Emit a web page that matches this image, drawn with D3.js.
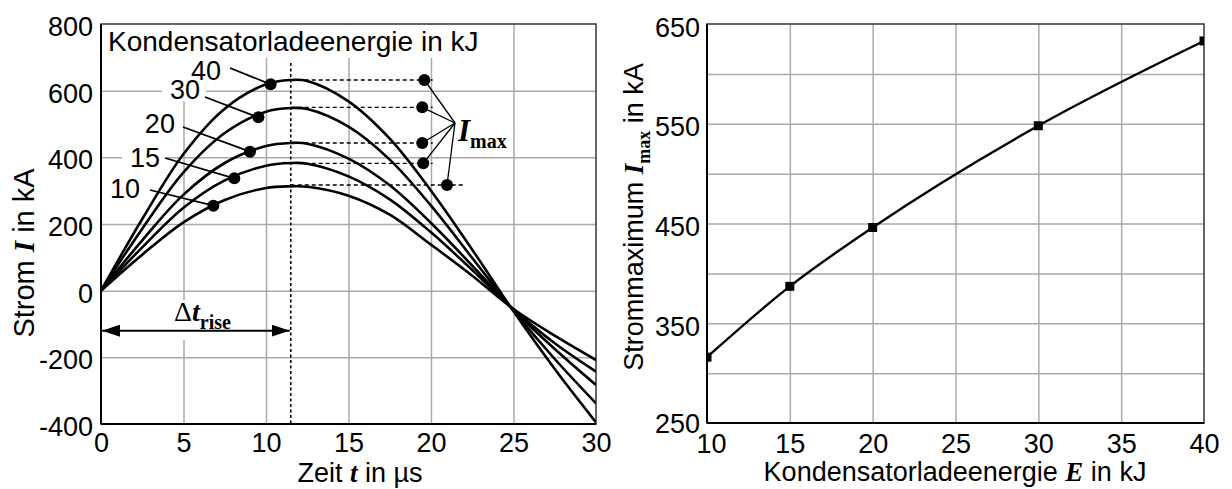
<!DOCTYPE html>
<html>
<head>
<meta charset="utf-8">
<script src="https://cdn.jsdelivr.net/npm/d3@7"></script>
<style>
body { margin: 0; background: #fff; }
text { font-family: "Liberation Sans", Arial, sans-serif; fill: #000; }
.serif { font-family: "Liberation Serif", "Times New Roman", serif; font-weight: bold; }
</style>
</head>
<body>
<svg id="chart" width="1232" height="489"></svg>
<script>
// left chart: current over time for each charging energy
const timeUs = [0, 2.5, 5, 7.5, 10, 11.5, 12.5, 15, 17.5, 20, 22.5, 25, 27.5, 30];
const current10 = [0, 108, 205, 272, 308, 313, 312, 285, 228, 138, 45, -55, -135, -208];
const current15 = [0, 130, 249, 331, 375, 383, 381, 343, 274, 175, 62, -56, -158, -243];
const current20 = [0, 151, 288, 383, 434, 443, 441, 396, 316, 203, 75, -58, -175, -283];
const current30 = [0, 186, 355, 473, 537, 548, 545, 492, 393, 255, 98, -60, -205, -338];
const current40 = [0, 215, 410, 546, 619, 632, 629, 568, 456, 300, 123, -62, -235, -395];
const energyLabels = ['10', '15', '20', '30', '40'];

// marked points on the rising edge
const dotTime = [6.81, 8.08, 9.03, 9.54, 10.28];
const dotCurrent = [255, 337, 417, 520, 619];
// label positions (text end) and leader start
const labelTime = [2.36, 3.58, 4.48, 6.0, 7.27];
const labelCurrent = [278, 371, 473, 574, 633];
const leaderTime = [2.97, 3.88, 4.97, 6.3, 7.82];
const leaderCurrent = [302, 398, 491, 581, 668];

// I_max markers
const imaxDotTime = [20.97, 19.53, 19.47, 19.47, 19.6];
const imaxDotCurrent = [317, 382, 443, 550, 632];
const imaxLineEnd = [22.05, 20.1, 20.1, 20.1, 20.1];
const riseTime = 11.5;
const riseArrowCurrent = -120;

const timeTicks = [0, 5, 10, 15, 20, 25, 30];
const currentTicks = [-400, -200, 0, 200, 400, 600, 800];

// right chart: peak current over energy
const energyKJ = [10, 15, 20, 30, 40];
const peakCurrent = [316, 387, 446, 548, 633];
const energyTicks = [10, 15, 20, 25, 30, 35, 40];
const peakGrid = [300, 350, 400, 450, 500, 550, 600];
const peakTicks = [250, 350, 450, 550, 650];

const FS = 27;
const svg = d3.select('#chart');
svg.append('rect').attr('width', 1232).attr('height', 489).attr('fill', '#fff');

const xT = d3.scaleLinear().domain([0, 30]).range([101, 596]);
const yI = d3.scaleLinear().domain([-400, 800]).range([424, 24]);
const xE = d3.scaleLinear().domain([10, 40]).range([707, 1204]);
const yM = d3.scaleLinear().domain([250, 650]).range([423, 24]);

const defs = svg.append('defs');
defs.append('clipPath').attr('id', 'clipL').append('rect')
	.attr('x', 101).attr('y', 24).attr('width', 495).attr('height', 400);
defs.append('clipPath').attr('id', 'clipR').append('rect')
	.attr('x', 707).attr('y', 24).attr('width', 497).attr('height', 399);
defs.append('marker').attr('id', 'arrowHead')
	.attr('viewBox', '0 0 18 12').attr('refX', 18).attr('refY', 6)
	.attr('markerWidth', 18).attr('markerHeight', 12)
	.attr('markerUnits', 'userSpaceOnUse').attr('orient', 'auto-start-reverse')
	.append('path').attr('d', 'M0,0 L18,6 L0,12 Z').attr('fill', '#000');

const plain = d => String(d);
const styleGrid = g => {
	g.select('.domain').remove();
	g.selectAll('line').attr('stroke', '#aaa').attr('stroke-width', 1.5);
};
const styleTicks = g => {
	g.select('.domain').remove();
	g.attr('font-size', FS).attr('font-family', '"Liberation Sans", Arial, sans-serif');
};

// ---------- left chart ----------
svg.append('g').attr('transform', `translate(0,${yI.range()[0]})`)
	.call(d3.axisBottom(xT).tickValues(timeTicks.slice(1, -1)).tickSize(-400).tickFormat(''))
	.call(styleGrid);
svg.append('g').attr('transform', `translate(${xT.range()[0]},0)`)
	.call(d3.axisLeft(yI).tickValues(currentTicks.slice(1, -1)).tickSize(-495).tickFormat(''))
	.call(styleGrid);

// white boxes that hide the grid behind the annotations
svg.append('rect').attr('x', 102).attr('y', 25).attr('width', 380).attr('height', 33).attr('fill', '#fff');
svg.append('rect').attr('x', 282).attr('y', 58).attr('width', 18).attr('height', 6).attr('fill', '#fff');

const leftPlot = svg.append('g');
leftPlot.append('rect').attr('x', 101).attr('y', 24).attr('width', 495).attr('height', 400)
	.attr('fill', 'none').attr('stroke', '#333').attr('stroke-width', 1.5);

// label backgrounds
energyLabels.forEach((lab, i) => {
	leftPlot.append('rect')
		.attr('x', xT(labelTime[i]) - 38).attr('y', yI(labelCurrent[i]) - 22)
		.attr('width', 44).attr('height', 24).attr('fill', '#fff');
});
leftPlot.append('rect').attr('x', 170).attr('y', 300).attr('width', 66).attr('height', 40).attr('fill', '#fff');

// rise time dotted vertical
leftPlot.append('line')
	.attr('x1', xT(riseTime)).attr('x2', xT(riseTime))
	.attr('y1', 63).attr('y2', yI(-400))
	.attr('stroke', '#000').attr('stroke-width', 1.6).attr('stroke-dasharray', '3,2.5');

const series = [current10, current15, current20, current30, current40];

// dotted lines from peaks to I_max markers
series.forEach((s, i) => {
	leftPlot.append('line')
		.attr('x1', xT(riseTime)).attr('x2', xT(imaxLineEnd[i]))
		.attr('y1', yI(imaxDotCurrent[i])).attr('y2', yI(imaxDotCurrent[i]))
		.attr('stroke', '#000').attr('stroke-width', 1.4).attr('stroke-dasharray', '4,3');
});

const line = d3.line()
	.x((d, i) => xT(timeUs[i]))
	.y(d => yI(d))
	.curve(d3.curveCatmullRom.alpha(0.5));

leftPlot.append('g').attr('clip-path', 'url(#clipL)')
	.selectAll('path').data(series).enter().append('path')
	.attr('d', line).attr('fill', 'none')
	.attr('stroke', '#000').attr('stroke-width', 2.6);

// markers, leaders and labels on rising edge
energyLabels.forEach((lab, i) => {
	leftPlot.append('line')
		.attr('x1', xT(leaderTime[i])).attr('y1', yI(leaderCurrent[i]))
		.attr('x2', xT(dotTime[i])).attr('y2', yI(dotCurrent[i]))
		.attr('stroke', '#000').attr('stroke-width', 1.8);
	leftPlot.append('circle')
		.attr('cx', xT(dotTime[i])).attr('cy', yI(dotCurrent[i])).attr('r', 6).attr('fill', '#000');
	leftPlot.append('text')
		.attr('x', xT(labelTime[i])).attr('y', yI(labelCurrent[i]))
		.attr('text-anchor', 'end').attr('font-size', FS).text(lab);
});

// I_max markers and leaders
const hubX = 455, hubY = 123;
energyLabels.forEach((lab, i) => {
	leftPlot.append('line')
		.attr('x1', hubX).attr('y1', hubY)
		.attr('x2', xT(imaxDotTime[i])).attr('y2', yI(imaxDotCurrent[i]))
		.attr('stroke', '#000').attr('stroke-width', 1.3);
	leftPlot.append('circle')
		.attr('cx', xT(imaxDotTime[i])).attr('cy', yI(imaxDotCurrent[i])).attr('r', 6).attr('fill', '#000');
});
const imaxText = leftPlot.append('text').attr('x', hubX + 3).attr('y', hubY + 18).attr('class', 'serif');
imaxText.append('tspan').attr('font-size', 31).attr('font-style', 'italic').text('I');
imaxText.append('tspan').attr('font-size', 20).attr('dy', 7).text('max');

// title
leftPlot.append('text').attr('x', 108).attr('y', 51).attr('font-size', 28)
	.text('Kondensatorladeenergie in kJ');

// rise time arrow
leftPlot.append('line')
	.attr('x1', xT(0) + 1).attr('x2', xT(riseTime) - 1)
	.attr('y1', yI(riseArrowCurrent)).attr('y2', yI(riseArrowCurrent))
	.attr('stroke', '#000').attr('stroke-width', 2)
	.attr('marker-start', 'url(#arrowHead)').attr('marker-end', 'url(#arrowHead)');
const riseText = leftPlot.append('text').attr('x', 174).attr('y', 321).attr('class', 'serif');
riseText.append('tspan').attr('font-size', 28).attr('font-weight', 'normal').text('Δ');
riseText.append('tspan').attr('font-size', 28).attr('font-style', 'italic').text('t');
riseText.append('tspan').attr('font-size', 20).attr('dy', 8).text('rise');

// axis lines and tick labels
leftPlot.append('line').attr('x1', 101).attr('x2', 101).attr('y1', 24).attr('y2', 424)
	.attr('stroke', '#000').attr('stroke-width', 2);
leftPlot.append('line').attr('x1', 101).attr('x2', 596).attr('y1', 424).attr('y2', 424)
	.attr('stroke', '#000').attr('stroke-width', 2);
svg.append('g').attr('transform', `translate(0,${yI.range()[0]})`)
	.call(d3.axisBottom(xT).tickValues(timeTicks).tickFormat(plain).tickSize(0).tickPadding(9))
	.call(styleTicks);
svg.append('g').attr('transform', `translate(${xT.range()[0]},0)`)
	.call(d3.axisLeft(yI).tickValues(currentTicks).tickFormat(plain).tickSize(0).tickPadding(8))
	.call(styleTicks)
	.selectAll('text').attr('dy', '0.42em');

const xLab = svg.append('text').attr('x', 360).attr('y', 482).attr('text-anchor', 'middle').attr('font-size', FS);
xLab.append('tspan').text('Zeit ');
xLab.append('tspan').attr('class', 'serif').attr('font-style', 'italic').text('t');
xLab.append('tspan').text(' in µs');

const yLab = svg.append('text').attr('transform', 'translate(34,253) rotate(-90)')
	.attr('text-anchor', 'middle').attr('font-size', 29);
yLab.append('tspan').text('Strom ');
yLab.append('tspan').attr('class', 'serif').attr('font-style', 'italic').text('I');
yLab.append('tspan').text(' in kA');

// ---------- right chart ----------
svg.append('g').attr('transform', `translate(0,${yM.range()[0]})`)
	.call(d3.axisBottom(xE).tickValues(energyTicks.slice(1, -1)).tickSize(-399).tickFormat(''))
	.call(styleGrid);
svg.append('g').attr('transform', `translate(${xE.range()[0]},0)`)
	.call(d3.axisLeft(yM).tickValues(peakGrid).tickSize(-497).tickFormat(''))
	.call(styleGrid);

const rightPlot = svg.append('g');
rightPlot.append('rect').attr('x', 707).attr('y', 24).attr('width', 497).attr('height', 399)
	.attr('fill', 'none').attr('stroke', '#333').attr('stroke-width', 1.5);

const peakLine = d3.line()
	.x((d, i) => xE(energyKJ[i]))
	.y(d => yM(d))
	.curve(d3.curveMonotoneX);
const rightClip = rightPlot.append('g').attr('clip-path', 'url(#clipR)');
rightClip.append('path').datum(peakCurrent).attr('d', peakLine)
	.attr('fill', 'none').attr('stroke', '#000').attr('stroke-width', 2.4);
rightClip.selectAll('rect.pt').data(peakCurrent).enter().append('rect')
	.attr('class', 'pt')
	.attr('x', (d, i) => xE(energyKJ[i]) - 4.5).attr('y', d => yM(d) - 4.5)
	.attr('width', 9).attr('height', 9).attr('fill', '#000');

rightPlot.append('line').attr('x1', 707).attr('x2', 707).attr('y1', 24).attr('y2', 423)
	.attr('stroke', '#000').attr('stroke-width', 2);
rightPlot.append('line').attr('x1', 707).attr('x2', 1204).attr('y1', 423).attr('y2', 423)
	.attr('stroke', '#000').attr('stroke-width', 2);
svg.append('g').attr('transform', `translate(0,${yM.range()[0]})`)
	.call(d3.axisBottom(xE).tickValues(energyTicks).tickFormat(plain).tickSize(0).tickPadding(11))
	.call(styleTicks)
	.selectAll('text').attr('dx', (d, i) => i === 0 ? 4 : 0);
svg.append('g').attr('transform', `translate(${xE.range()[0]},0)`)
	.call(d3.axisLeft(yM).tickValues(peakTicks).tickFormat(plain).tickSize(0).tickPadding(7))
	.call(styleTicks)
	.selectAll('text').attr('dy', (d, i) => i === 0 ? '0.34em' : '0.45em');

const xLabR = svg.append('text').attr('x', 955).attr('y', 481).attr('text-anchor', 'middle').attr('font-size', FS);
xLabR.append('tspan').text('Kondensatorladeenergie ');
xLabR.append('tspan').attr('class', 'serif').attr('font-style', 'italic').text('E');
xLabR.append('tspan').text(' in kJ');

const yLabR = svg.append('text').attr('transform', 'translate(643,217) rotate(-90)')
	.attr('text-anchor', 'middle').attr('font-size', FS);
yLabR.append('tspan').text('Strommaximum ');
yLabR.append('tspan').attr('class', 'serif').attr('font-style', 'italic').text('I');
yLabR.append('tspan').attr('class', 'serif').attr('font-size', 18).attr('dy', 7).text('max');
yLabR.append('tspan').attr('dy', -7).text(' in kA');
</script>
</body>
</html>
